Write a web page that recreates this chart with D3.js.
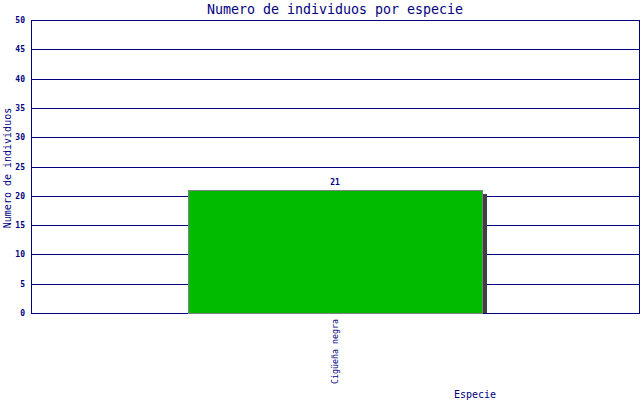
<!DOCTYPE html>
<html><head><meta charset="utf-8">
<script src="https://cdn.jsdelivr.net/npm/d3@7"></script>
<style>body{margin:0;background:#fff}svg{display:block}text{font-family:"DejaVu Sans Mono",monospace}</style>
</head><body>
<script>
const categories = ["Cigüeña negra"];
const values = [21];
const yTicks = [0,5,10,15,20,25,30,35,40,45,50];
const title = "Numero de individuos por especie";
const yLabel = "Numero de individuos";
const xLabel = "Especie";

const W = 640, H = 400;
const m = {left:31, right:1, top:20, bottom:87};
const navy = "#000080";
const svg = d3.select("body").append("svg").attr("width",W).attr("height",H);
const x = d3.scaleBand().domain(categories).range([m.left, W-m.right]).paddingInner(0).paddingOuter(0.534);
const y = d3.scaleLinear().domain([0,50]).range([H-m.bottom, m.top]);

// grid
svg.append("g").selectAll("line").data(yTicks).join("line")
  .attr("x1", m.left).attr("x2", W-m.right)
  .attr("y1", d=>Math.round(y(d))+0.5).attr("y2", d=>Math.round(y(d))+0.5)
  .attr("stroke", navy).attr("stroke-width",1);
// axes lines
svg.append("line").attr("x1",m.left+0.5).attr("x2",m.left+0.5).attr("y1",m.top).attr("y2",H-m.bottom+1).attr("stroke",navy);
svg.append("line").attr("x1",W-m.right+0.5).attr("x2",W-m.right+0.5).attr("y1",m.top).attr("y2",H-m.bottom+1).attr("stroke",navy);

// y ticks
const yAxis = svg.append("g").attr("transform",`translate(${m.left},0)`)
  .call(d3.axisLeft(y).tickValues(yTicks).tickSize(0).tickPadding(6));
yAxis.select(".domain").remove();
yAxis.selectAll("text").attr("fill",navy).style("font-size","8px").style("font-weight","bold").style("font-family","'DejaVu Sans Mono',monospace");

// bars: shadow then bar
const bw = x.bandwidth();
svg.append("g").selectAll("rect").data(values).join("rect")
  .attr("x",(d,i)=>Math.round(x(categories[i])+bw)+1).attr("width",4)
  .attr("y",d=>Math.round(y(d))+4).attr("height",d=>Math.round(y(0))-Math.round(y(d))-4)
  .attr("fill","#404040");
svg.append("g").selectAll("rect").data(values).join("rect")
  .attr("x",(d,i)=>Math.round(x(categories[i]))+0.5).attr("width",Math.round(bw))
  .attr("y",d=>Math.round(y(d))+0.5).attr("height",d=>Math.round(y(0))-Math.round(y(d)))
  .attr("fill","#00bb00").attr("stroke","#808080").attr("stroke-width",1);

// value labels
svg.append("g").selectAll("text").data(values).join("text")
  .attr("x",(d,i)=>x(categories[i])+bw/2).attr("y",d=>y(d)-5)
  .attr("text-anchor","middle").attr("fill",navy).style("font-size","8px").style("font-weight","bold")
  .text(d=>d);

// category labels rotated
svg.append("g").selectAll("text").data(categories).join("text")
  .attr("transform",d=>`translate(${x(d)+bw/2+3},${H-m.bottom+6}) rotate(-90)`)
  .attr("text-anchor","end").attr("fill",navy).style("font-size","8.3px")
  .text(d=>d);

// title
svg.append("text").attr("x",335).attr("y",14).attr("text-anchor","middle")
  .attr("fill",navy).style("font-size","13.3px").text(title);
// axis labels
svg.append("text").attr("transform",`translate(11,${168}) rotate(-90)`).attr("text-anchor","middle")
  .attr("fill",navy).style("font-size","10px").text(yLabel);
svg.append("text").attr("x",475).attr("y",398).attr("text-anchor","middle")
  .attr("fill",navy).style("font-size","10px").text(xLabel);
</script>
</body></html>
